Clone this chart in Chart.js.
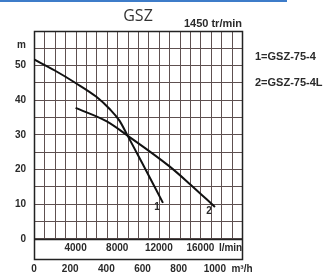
<!DOCTYPE html>
<html>
<head>
<meta charset="utf-8">
<script src="https://cdn.jsdelivr.net/npm/chart.js@4.4.0/dist/chart.umd.min.js"></script>
<style>
  html, body { margin: 0; padding: 0; background: #fff; }
  canvas { display: block; }
</style>
</head>
<body>
<canvas id="pumpChart" width="331" height="276"></canvas>
<script>
// pump curves, flow in l/min, head in m
const flow1 = [0, 2000, 4000, 6000, 7300, 8200, 9000, 10400, 12400];
const head1 = [51.8, 48.6, 45, 41, 37.4, 34.2, 29.8, 21.9, 10.4];
const flow2 = [4000, 7000, 9000, 13000, 15000, 17400];
const head2 = [37.8, 33.9, 29.8, 21, 15.8, 9.2];

const curveTags = ['1', '2'];
const seriesNames = ['1=GSZ-75-4', '2=GSZ-75-4L'];
const chartTitle = 'GSZ';
const speedNote = '1450 tr/min';

const headTicks = [0, 5, 10, 15, 20, 25, 30, 35, 40, 45, 50, 55, 56, 60];
const headLabels = { 0: '0', 10: '10', 20: '20', 30: '30', 40: '40', 50: '50', 56: 'm' };
const flowGrid = [];
for (let v = 0; v <= 20000; v += 1000) flowGrid.push(v);
const flowTicks = [4000, 8000, 12000, 16000, 18900];
const flowLabels = { 4000: '4000', 8000: '8000', 12000: '12000', 16000: '16000', 18900: 'l/min' };
const m3hTicks = [0, 200, 400, 600, 800, 1000, 1150];
const m3hLabels = { 0: '0', 200: '200', 400: '400', 600: '600', 800: '800', 1000: '1000', 1150: 'm\u00b3/h' };

const gridColor = '#5e5050';
const inkColor = '#2a2a2a';

Chart.defaults.font.family = '"Liberation Sans", Arial, sans-serif';

const decorPlugin = {
    id: 'decor',
    beforeDatasetsDraw(chart) {
        const ctx = chart.ctx;
        const area = chart.chartArea;
        const x = chart.scales.x;
        const y = chart.scales.y;
        const zeroY = Math.round(y.getPixelForValue(0)) + 0.5;

        ctx.save();
        ctx.strokeStyle = gridColor;
        ctx.lineWidth = 1;
        flowGrid.forEach(v => {
            const px = Math.round(x.getPixelForValue(v)) + 0.5;
            ctx.beginPath();
            ctx.moveTo(px, area.top);
            ctx.lineTo(px, zeroY);
            ctx.stroke();
        });

        // outer frame incl. the label band under 0
        ctx.strokeStyle = '#222';
        ctx.lineWidth = 1.5;
        ctx.strokeRect(Math.round(area.left) + 0.5, Math.round(area.top) + 0.5,
            Math.round(area.right - area.left), Math.round(area.bottom - area.top));
        ctx.beginPath();
        ctx.moveTo(area.left, zeroY);
        ctx.lineTo(area.right, zeroY);
        ctx.stroke();
        ctx.restore();
    },
    afterDatasetsDraw(chart) {
        const ctx = chart.ctx;
        const area = chart.chartArea;

        ctx.save();
        // blue rule at the very top
        ctx.strokeStyle = '#3d7cc9';
        ctx.lineWidth = 2;
        ctx.beginPath();
        ctx.moveTo(0, 1);
        ctx.lineTo(287, 1);
        ctx.stroke();

        ctx.fillStyle = '#333';
        ctx.textBaseline = 'middle';
        ctx.textAlign = 'center';
        ctx.font = '16px "Open Sans", sans-serif';
        ctx.fillText(chartTitle, (area.left + area.right) / 2, 16);

        ctx.fillStyle = inkColor;
        ctx.font = 'bold 11px "Liberation Sans", Arial, sans-serif';
        ctx.textAlign = 'right';
        ctx.fillText(speedNote, area.right, 24);

        ctx.textAlign = 'left';
        seriesNames.forEach((name, i) => {
            ctx.fillText(name, area.right + 13, 57 + i * 26);
        });

        // curve numbers next to the curve ends
        ctx.textAlign = 'center';
        ctx.font = 'bold 10px "Liberation Sans", Arial, sans-serif';
        chart.data.datasets.forEach((ds, i) => {
            const pts = chart.getDatasetMeta(i).data;
            const last = pts[pts.length - 1];
            ctx.fillText(curveTags[i], last.x - 6, last.y + 4);
        });
        ctx.restore();
    }
};

const ctx = document.getElementById('pumpChart').getContext('2d');

new Chart(ctx, {
    type: 'line',
    data: {
        datasets: [
            {
                label: seriesNames[0],
                data: flow1.map((q, i) => ({ x: q, y: head1[i] })),
                borderColor: '#111',
                borderWidth: 2,
                pointRadius: 0,
                cubicInterpolationMode: 'monotone',
                fill: false
            },
            {
                label: seriesNames[1],
                data: flow2.map((q, i) => ({ x: q, y: head2[i] })),
                borderColor: '#111',
                borderWidth: 2,
                pointRadius: 0,
                cubicInterpolationMode: 'monotone',
                fill: false
            }
        ]
    },
    options: {
        responsive: false,
        animation: false,
        layout: { padding: { top: 31, right: 89, left: 0, bottom: 0 } },
        plugins: {
            legend: { display: false },
            tooltip: { enabled: false },
            title: { display: false }
        },
        scales: {
            x: {
                type: 'linear',
                min: 0,
                max: 20000,
                position: { y: 0 },
                afterBuildTicks: scale => { scale.ticks = flowTicks.map(v => ({ value: v })); },
                grid: { display: false, drawTicks: false },
                border: { display: false },
                ticks: {
                    autoSkip: false,
                    maxRotation: 0,
                    padding: 3,
                    color: inkColor,
                    font: { size: 10, weight: 'bold' },
                    callback: v => flowLabels[v] || ''
                }
            },
            x2: {
                type: 'linear',
                axis: 'x',
                min: 0,
                max: 1150,
                position: 'bottom',
                afterBuildTicks: scale => { scale.ticks = m3hTicks.map(v => ({ value: v })); },
                afterFit: scale => { scale.height = 17; },
                grid: { display: false, drawTicks: false },
                border: { display: false },
                ticks: {
                    autoSkip: false,
                    maxRotation: 0,
                    padding: 4,
                    color: inkColor,
                    font: { size: 10, weight: 'bold' },
                    callback: v => m3hLabels[v] || ''
                }
            },
            y: {
                type: 'linear',
                min: -5.8,
                max: 60,
                afterBuildTicks: scale => { scale.ticks = headTicks.map(v => ({ value: v })); },
                afterFit: scale => { scale.width = 34; },
                border: { display: false },
                grid: {
                    drawTicks: false,
                    color: c => (c.tick && c.tick.value === 56) ? 'rgba(0,0,0,0)' : gridColor,
                    lineWidth: 1
                },
                ticks: {
                    autoSkip: false,
                    padding: 8,
                    color: inkColor,
                    font: { size: 10, weight: 'bold' },
                    callback: v => headLabels[v] || ''
                }
            }
        }
    },
    plugins: [decorPlugin]
});
</script>
</body>
</html>
